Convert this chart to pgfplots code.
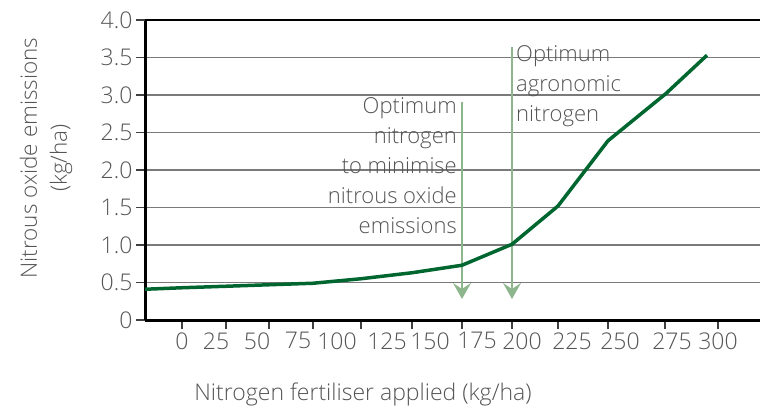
\documentclass[border=0pt]{standalone}
\usepackage{fontspec}
\IfFontExistsTF{Open Sans Light}{\setmainfont{Open Sans Light}}{\setmainfont{Open Sans}}
\usepackage{pgfplots}
\pgfplotsset{compat=1.18}
\usetikzlibrary{arrows.meta}

\definecolor{curvegreen}{HTML}{00662F}
\definecolor{arrowgreen}{HTML}{8DB68D}
\definecolor{txtgray}{HTML}{555555}
\definecolor{gridgray}{HTML}{7A7A7A}

\begin{document}
\begin{tikzpicture}[x=1pt,y=1pt]
\useasboundingbox (0,0) rectangle (760,410);
\begin{axis}[
  at={(145,120)}, anchor=origin,
  scale only axis, width=615pt, height=300pt,
  xmin=0, xmax=615, ymin=0, ymax=4,
  clip=false,
  axis lines*=left,
  axis line style={black, line width=3pt},
  tick align=outside,
  major tick length=9pt,
  tick style={black!75, line width=1.3pt},
  ytick={0,0.5,1,1.5,2,2.5,3,3.5,4},
  yticklabels={0,0.5,1.0,1.5,2.0,2.5,3.0,3.5,4.0},
  ymajorgrids=true,
  grid style={gridgray, line width=1.2pt},
  extra y ticks={4},
  extra y tick labels={{}},
  extra y tick style={grid style={black, line width=2pt}},
  % tick marks only; the labels come from the extra ticks below
  xtick={37,81,124,168,216,267,317,367,413,463,520,573},
  xticklabels={{},{},{},{},{},{},{},{},{},{},{},{}},
  extra x ticks={37,71,112,153,192,242,285,332,377,427,475,527,573},
  extra x tick labels={0,25,50,75,100,125,150,175,200,225,250,275,300},
  extra x tick style={major tick length=0pt, xticklabel style={yshift=-9pt}},
  tick label style={font=\fontsize{23}{28}\selectfont, text=txtgray},
]
\draw[arrowgreen, line width=1.5pt, -{Stealth[length=16pt, width=18pt, inset=6pt]}]
  (axis cs:317,2.907) -- (axis cs:317,0.28);
\draw[arrowgreen, line width=1.5pt, -{Stealth[length=16pt, width=18pt, inset=6pt]}]
  (axis cs:367,3.64) -- (axis cs:367,0.28);

\addplot[curvegreen, line width=3.5pt, line join=round] coordinates {
  (0,0.41) (37,0.43) (81,0.45) (124,0.47) (168,0.49) (216,0.55) (267,0.63)
  (317,0.73) (367,1.01) (413,1.52) (463,2.39) (521,3.02) (562,3.53)
};

\node[anchor=north east, align=right, inner sep=0pt, text=txtgray,
  font=\fontsize{22}{30}\selectfont] at (axis cs:312,2.973)
  {Optimum\\nitrogen\\to minimise\\nitrous oxide\\emissions};
\node[anchor=north west, align=left, inner sep=0pt, text=txtgray,
  font=\fontsize{22}{30}\selectfont] at (axis cs:371,3.667)
  {Optimum\\agronomic\\nitrogen};
\end{axis}
\node[rotate=90, align=center, text=txtgray, font=\fontsize{22.5}{30}\selectfont]
  at (46,252) {Nitrous oxide emissions\\(kg/ha)};
\node[anchor=base, text=txtgray, font=\fontsize{23}{28}\selectfont]
  at (363,10) {Nitrogen fertiliser applied (kg/ha)};
\end{tikzpicture}
\end{document}
